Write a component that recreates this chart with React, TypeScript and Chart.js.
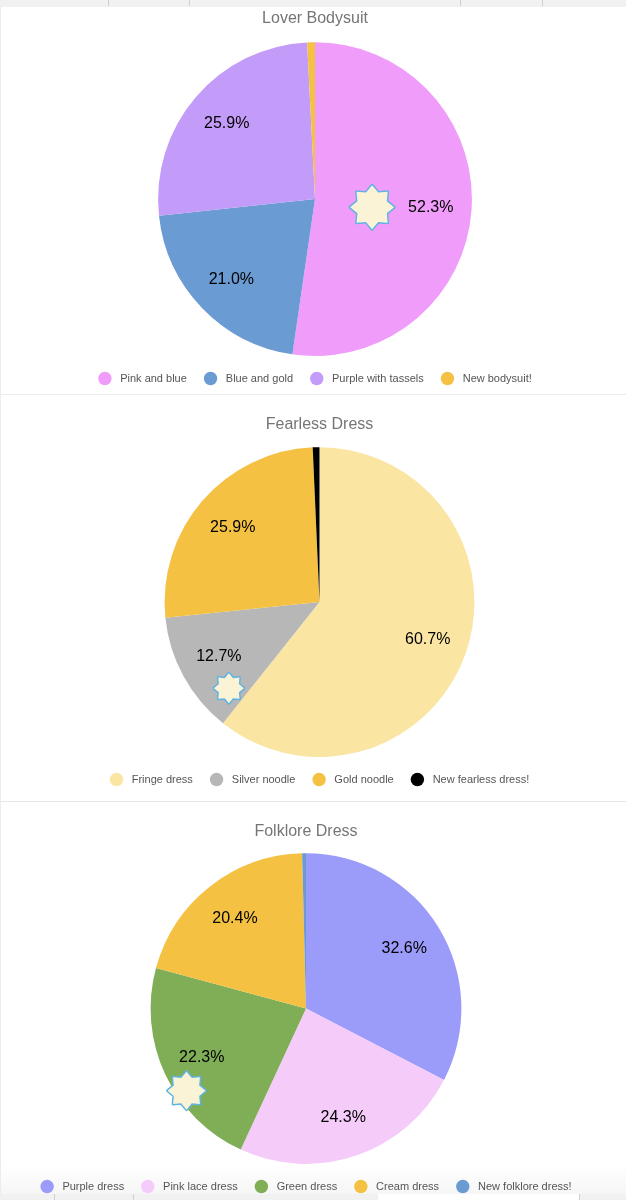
import { Chart, registerables } from "chart.js";
import { useEffect, useRef } from "react";

Chart.register(...registerables);

const bodysuitLabels = ["Pink and blue", "Blue and gold", "Purple with tassels", "New bodysuit!"];
const bodysuitValues = [52.3, 21.0, 25.9, 0.8];
const bodysuitColors = ["#f09cfa", "#6a9bd2", "#c39bf8", "#f4c143"];

const fearlessLabels = ["Fringe dress", "Silver noodle", "Gold noodle", "New fearless dress!"];
const fearlessValues = [60.7, 12.7, 25.9, 0.7];
const fearlessColors = ["#fae5a3", "#b7b7b7", "#f4c143", "#000000"];

const folkloreLabels = ["Purple dress", "Pink lace dress", "Green dress", "Cream dress", "New folklore dress!"];
const folkloreValues = [32.6, 24.3, 22.3, 20.4, 0.4];
const folkloreColors = ["#9b9bfa", "#f5ccf9", "#7fae57", "#f4c143", "#6a9bd2"];

// percent labels + the little star sticker on each pie
const pieExtras = {
  id: "pieExtras",
  afterDatasetsDraw(chart: any, _args: any, opts: any) {
    const { ctx } = chart;
    const arcs = chart.getDatasetMeta(0).data;
    const values = chart.data.datasets[0].data;
    ctx.save();
    ctx.font = '16px "Liberation Sans"';
    ctx.fillStyle = "#000";
    ctx.textAlign = "center";
    ctx.textBaseline = "middle";
    arcs.forEach((arc: any, i: number) => {
      if (values[i] < 5) return;
      const { startAngle, endAngle, outerRadius, x, y } = arc.getProps(["startAngle", "endAngle", "outerRadius", "x", "y"]);
      const mid = (startAngle + endAngle) / 2;
      const r = outerRadius * 0.74;
      ctx.fillText(values[i].toFixed(1) + "%", x + Math.cos(mid) * r, y + Math.sin(mid) * r);
    });

    const { x, y, outerRadius } = arcs[0].getProps(["x", "y", "outerRadius"]);
    const cx = x + opts.starX * outerRadius;
    const cy = y + opts.starY * outerRadius;
    ctx.beginPath();
    for (let i = 0; i < 16; i++) {
      const a = (i * Math.PI) / 8 - Math.PI / 2;
      const r = i % 2 === 0 ? opts.starSize : opts.starSize * 0.72;
      ctx.lineTo(cx + Math.cos(a) * r, cy + Math.sin(a) * r);
    }
    ctx.closePath();
    ctx.fillStyle = "#fbf3d6";
    ctx.strokeStyle = "#5fb4e2";
    ctx.lineWidth = 3;
    ctx.lineJoin = "round";
    ctx.stroke();
    ctx.fill();
    ctx.restore();
  },
};

const PieCard = ({ title, labels, values, colors, top, height, titlePad, padding, star }: any) => {
  const ref = useRef<HTMLCanvasElement>(null);

  useEffect(() => {
    if (!ref.current) return;
    const chart = new Chart(ref.current, {
      type: "pie",
      data: {
        labels,
        datasets: [{ data: values, backgroundColor: colors, borderWidth: 0 }],
      },
      options: {
        animation: false,
        responsive: false,
        layout: { padding },
        plugins: {
          title: {
            display: true,
            text: title,
            color: "#757575",
            font: { family: "Liberation Sans", size: 16, weight: "normal" },
            padding: titlePad,
          },
          legend: {
            position: "bottom",
            labels: {
              usePointStyle: true,
              pointStyle: "circle",
              boxHeight: 9.5,
              pointStyleWidth: 13.4,
              padding: 17,
              color: "#555",
              font: { family: "Liberation Sans", size: 11 },
              generateLabels: (c: any) =>
                Chart.overrides.pie.plugins.legend.labels
                  .generateLabels(c)
                  .map((l: any) => ({ ...l, text: "\u00a0" + l.text })),
            },
          },
          tooltip: { enabled: false },
          pieExtras: star,
        } as any,
      },
      plugins: [pieExtras],
    });
    return () => chart.destroy();
  }, []);

  return (
    <canvas
      ref={ref}
      width={626}
      height={height}
      style={{ position: "absolute", left: 0, top, width: 626, height }}
    />
  );
};

export default function App() {
  const rule = (x: number, top: number, h: number) => (
    <div key={x + "-" + top} style={{ position: "absolute", left: x, top, width: 1, height: h, background: "#cfcfcf" }} />
  );
  return (
    <div style={{ position: "fixed", left: 0, top: 0, width: 626, height: 1200, background: "#fff", overflow: "hidden" }}>
      <div style={{ position: "absolute", left: 0, top: 0, width: 626, height: 7, background: "#f1f1f1" }} />
      {[108, 189, 460, 542].map((x) => rule(x, 0, 6))}
      <div style={{ position: "absolute", left: 0, top: 394, width: 626, height: 1, background: "#ececec" }} />
      <div style={{ position: "absolute", left: 0, top: 801, width: 626, height: 1, background: "#e6e6e6" }} />
      <div style={{ position: "absolute", left: 0, top: 1165, width: 626, height: 29, background: "linear-gradient(#fff, #f6f6f6)" }} />
      <div style={{ position: "absolute", left: 0, top: 7, width: 1, height: 1187, background: "#ececec" }} />

      <PieCard
        title="Lover Bodysuit"
        labels={bodysuitLabels}
        values={bodysuitValues}
        colors={bodysuitColors}
        top={7}
        height={387}
        titlePad={{ top: 2, bottom: 14 }}
        padding={{ left: 4 }}
        star={{ starX: 0.364, starY: 0.052, starSize: 22 }}
      />
      <PieCard
        title="Fearless Dress"
        labels={fearlessLabels}
        values={fearlessValues}
        colors={fearlessColors}
        top={395}
        height={406}
        titlePad={{ top: 20, bottom: 13 }}
        padding={{ left: 13, bottom: 6 }}
        star={{ starX: -0.585, starY: 0.556, starSize: 15 }}
      />
      <PieCard
        title="Folklore Dress"
        labels={folkloreLabels}
        values={folkloreValues}
        colors={folkloreColors}
        top={802}
        height={406}
        titlePad={{ top: 20, bottom: 12 }}
        padding={{ right: 14, bottom: 6 }}
        star={{ starX: -0.769, starY: 0.528, starSize: 19 }}
      />

      <div style={{ position: "absolute", left: 0, top: 1194, width: 626, height: 6, background: "#f1f1f1" }} />
      {[54, 133, 378, 579].map((x) => rule(x, 1194, 6))}
      <div style={{ position: "absolute", left: 378, top: 1194, width: 201, height: 6, background: "#fff" }} />
    </div>
  );
}
